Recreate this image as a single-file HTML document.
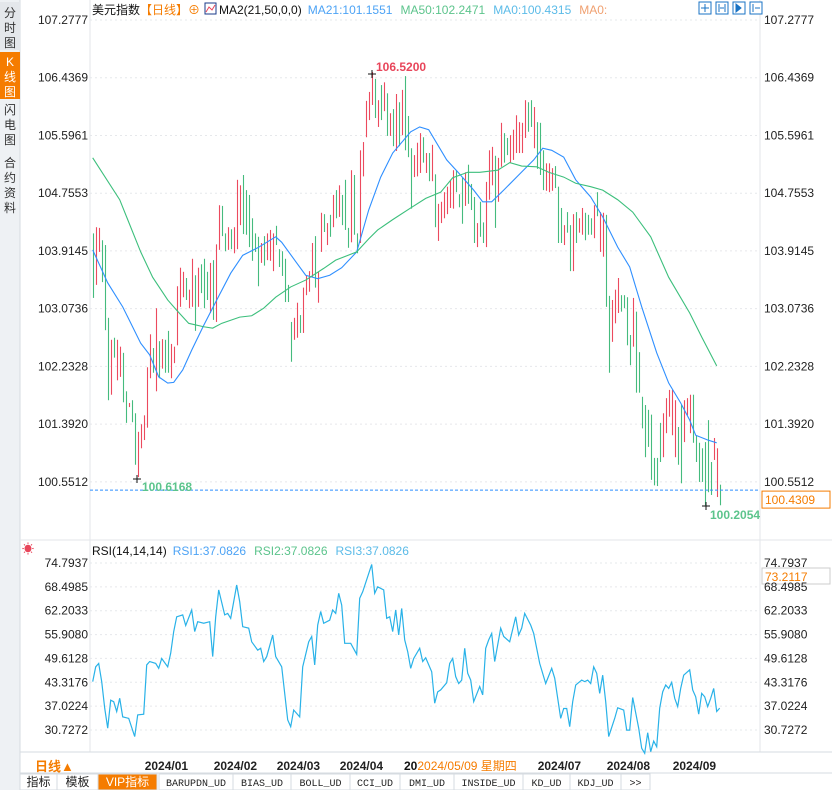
<!DOCTYPE html>
<html><head><meta charset="utf-8"><style>
html,body{margin:0;padding:0;background:#fff;}
svg{display:block;font-family:"Liberation Sans","Noto Sans CJK SC",sans-serif;}
</style></head><body>
<svg id="s" width="832" height="790" viewBox="0 0 832 790" xmlns="http://www.w3.org/2000/svg">
<rect x="0" y="0" width="832" height="790" fill="#fff"/>
<g>
<rect x="0" y="0" width="20" height="790" fill="#eef1f4"/>
<line x1="20" y1="0" x2="20" y2="790" stroke="#d6dbe0"/>
<g><rect x="0" y="2" width="20" height="48" fill="#e4e7eb"/><text x="10" y="17" font-size="12" text-anchor="middle" fill="#333">分</text><text x="10" y="32" font-size="12" text-anchor="middle" fill="#333">时</text><text x="10" y="47" font-size="12" text-anchor="middle" fill="#333">图</text></g>
<g><rect x="0" y="52" width="20" height="47" fill="#f57c00"/><text x="10" y="66" font-size="12" text-anchor="middle" fill="#fff">K</text><text x="10" y="81" font-size="12" text-anchor="middle" fill="#fff">线</text><text x="10" y="96" font-size="12" text-anchor="middle" fill="#fff">图</text></g>
<g><text x="10" y="114" font-size="12" text-anchor="middle" fill="#333">闪</text><text x="10" y="129" font-size="12" text-anchor="middle" fill="#333">电</text><text x="10" y="144" font-size="12" text-anchor="middle" fill="#333">图</text></g>
<g><text x="10" y="167" font-size="12" text-anchor="middle" fill="#333">合</text><text x="10" y="182" font-size="12" text-anchor="middle" fill="#333">约</text><text x="10" y="197" font-size="12" text-anchor="middle" fill="#333">资</text><text x="10" y="212" font-size="12" text-anchor="middle" fill="#333">料</text></g>
</g>
<g id="grid"></g>
<line x1="90" y1="0" x2="90" y2="752" stroke="#e3e6ea"/>
<line x1="760" y1="0" x2="760" y2="752" stroke="#e3e6ea"/>
<line x1="20" y1="540" x2="832" y2="540" stroke="#e3e6ea"/>
<line x1="20" y1="752" x2="832" y2="752" stroke="#d6dbe0"/>
<text x="92" y="14" font-size="12"><tspan fill="#111">美元指数</tspan><tspan fill="#f57c00">【日线】</tspan><tspan fill="#f57c00">⊕</tspan></text>
<g><rect x="205" y="3" width="11" height="11" fill="#fff" stroke="#1a3a8a"/><polyline points="206,12 209,7 212,10 215,5" fill="none" stroke="#e8455a"/></g>
<text x="219" y="14" font-size="12"><tspan fill="#111">MA2(21,50,0,0)</tspan><tspan fill="#4da3f5" dx="6">MA21:101.1551</tspan><tspan fill="#5cc48c" dx="8">MA50:102.2471</tspan><tspan fill="#5bbbe8" dx="8">MA0:100.4315</tspan><tspan fill="#f0a070" dx="8">MA0:</tspan></text>
<g>
<rect x="699" y="2" width="12" height="12" fill="#fff" stroke="#1a73c4"/><rect x="716" y="2" width="12" height="12" fill="#fff" stroke="#1a73c4"/><rect x="733" y="2" width="12" height="12" fill="#fff" stroke="#1a73c4"/><rect x="750" y="2" width="12" height="12" fill="#fff" stroke="#1a73c4"/>
<path d="M705 4v8M701 8h8M719 4v8M725 4v8M720 8h4M736 4v8l5-4z M753 4v8M755 8h5" stroke="#1a73c4" fill="#1a73c4"/>
</g>
<g><rect x="762" y="568" width="68" height="16" fill="none" stroke="#ccc"/><text x="765" y="581" font-size="12" fill="#f57c00">73.2117</text></g>
<g id="axes"></g>
<g id="candles"></g>
<g id="mas"></g>
<line id="curline" x1="90" x2="760" stroke="#2f8fff" stroke-dasharray="3,2"/>
<g><rect id="curbox" x="762" width="68" height="17" fill="#fff" stroke="#f57c00"/><text id="curtxt" x="765" font-size="12" fill="#f57c00">100.4309</text></g>
<g><path d="M368 74h8M372 70v8" stroke="#111"/><text x="376" y="71" font-size="12" font-weight="bold" fill="#e8455a">106.5200</text></g>
<g><path d="M133 479h8M137 475v8" stroke="#111"/><text x="142" y="491" font-size="12" font-weight="bold" fill="#5cc48c">100.6168</text></g>
<g><path d="M702 506h8M706 502v8" stroke="#111"/><text x="710" y="519" font-size="12" font-weight="bold" fill="#5cc48c">100.2054</text></g>
<text x="22" y="553" font-size="12" fill="#e8455a">☀</text>
<text x="92" y="555" font-size="12"><tspan fill="#111">RSI(14,14,14)</tspan><tspan fill="#4da3f5" dx="6">RSI1:37.0826</tspan><tspan fill="#5cc48c" dx="8">RSI2:37.0826</tspan><tspan fill="#5bbbe8" dx="8">RSI3:37.0826</tspan></text>
<polyline id="rsiline" fill="none" stroke="#29b2e8" stroke-width="1.2"/>
<text x="35" y="771" font-size="13" font-weight="bold" fill="#f57c00">日线▲</text>
<g id="dates"></g>
<rect x="390" y="757" width="140" height="16" fill="#fff"/>
<text x="404" y="770" font-size="12"><tspan fill="#111" font-weight="bold">20</tspan><tspan fill="#f57c00">2024/05/09 星期四</tspan></text>
<g id="tabs"><line x1="20" y1="773" x2="832" y2="773" stroke="#d6dbe0"/></g>
</svg>
<script>
const NS='http://www.w3.org/2000/svg';
const priceTicks=[107.2777,106.4369,105.5961,104.7553,103.9145,103.0736,102.2328,101.3920,100.5512];
const rsiTicks=[74.7937,68.4985,62.2033,55.9080,49.6128,43.3176,37.0224,30.7272];
const dateLabels=['2024/01','2024/02','2024/03','2024/04','2024/07','2024/08','2024/09'];
const dateBars=[17,40,61,82,148,171,193];
const highs=[104.17,104.26,104.25,104.07,104.00,102.94,102.62,102.65,102.62,102.52,102.43,101.87,101.70,101.74,101.55,101.28,101.39,101.52,102.22,102.70,102.50,103.08,102.60,102.63,102.62,102.75,102.56,102.52,103.40,103.67,103.61,103.52,103.35,103.80,103.56,103.67,103.72,103.80,103.61,103.74,103.78,104.01,104.58,104.57,104.17,104.26,104.23,104.26,104.95,104.87,105.02,104.80,104.73,104.39,104.17,104.12,104.03,104.13,104.17,104.22,104.17,104.28,103.94,103.91,103.80,103.42,102.88,102.94,103.16,102.98,103.38,103.56,103.62,104.03,104.13,103.61,104.47,104.45,104.32,104.44,104.73,104.80,104.87,104.73,104.95,104.25,105.09,105.02,104.17,105.38,105.50,106.10,106.23,106.52,106.42,106.11,106.33,106.37,106.21,105.92,105.98,106.20,106.08,106.26,106.46,105.88,105.41,105.31,105.49,105.63,105.57,105.34,105.34,105.46,105.03,104.60,104.63,104.77,104.85,104.95,105.09,105.09,104.74,104.98,105.06,105.17,104.89,104.70,104.32,104.63,104.33,104.92,105.38,105.43,105.30,105.27,105.78,105.63,105.56,105.60,105.68,105.89,105.79,105.78,106.11,106.08,106.11,106.01,105.79,105.78,105.38,105.19,105.19,105.12,105.15,104.85,104.54,104.29,104.48,104.29,104.45,104.48,104.39,104.54,104.47,104.44,104.39,104.58,104.77,104.48,104.47,104.44,103.26,103.20,103.35,103.52,103.27,103.27,103.24,102.69,103.23,103.03,102.44,101.79,101.67,101.60,101.53,100.90,100.90,101.41,101.55,101.77,101.89,101.89,101.74,101.35,101.67,101.74,101.77,101.82,101.82,101.23,101.12,101.04,101.13,101.45,100.84,101.19,101.04,100.51];
const lows=[103.23,103.42,103.90,103.46,102.76,101.74,101.82,102.36,102.03,102.08,101.71,101.41,101.64,101.42,100.80,100.62,101.04,101.16,101.34,102.06,102.14,101.87,102.06,102.20,102.14,102.14,102.06,102.28,102.54,103.10,103.24,103.20,103.08,103.10,102.75,103.10,103.30,103.08,103.20,103.01,102.91,102.88,103.93,104.13,103.91,103.93,103.94,103.88,103.94,104.29,104.16,104.15,103.97,103.77,103.90,103.40,103.74,103.70,103.78,103.77,103.62,104.00,103.68,103.55,103.17,103.17,102.30,102.62,102.65,102.72,102.72,103.27,103.32,103.53,103.38,103.16,103.90,104.19,104.00,104.12,104.26,104.39,104.41,104.29,104.22,103.96,104.04,104.15,103.88,104.03,105.00,105.57,105.82,106.04,105.85,105.72,105.82,105.95,105.59,105.59,105.44,105.37,105.44,105.60,105.38,105.28,104.53,104.99,105.00,105.05,105.20,105.05,104.93,104.93,104.26,104.06,104.32,104.39,104.45,104.54,104.53,104.77,104.55,104.31,104.57,104.60,104.51,104.03,103.97,104.12,104.03,103.97,104.66,104.87,104.25,104.63,105.14,105.20,105.31,105.20,105.24,105.34,105.34,105.34,105.56,105.65,105.72,105.41,105.11,105.02,104.80,104.79,104.77,104.79,104.83,104.03,104.03,104.00,104.18,103.62,103.62,104.03,104.18,104.15,104.07,104.15,104.15,104.10,104.42,103.90,103.83,103.10,102.14,102.59,102.86,103.01,103.03,103.08,102.54,102.25,102.52,101.85,101.85,101.33,100.91,101.06,100.58,100.50,100.49,100.84,100.91,101.26,101.50,101.23,100.91,100.80,100.53,101.13,101.52,101.26,101.12,100.84,100.55,100.55,100.21,100.40,100.36,100.87,100.33,100.21];
const upDays=[0,1,1,0,0,0,1,0,1,1,0,0,1,0,0,1,1,1,1,1,0,1,0,1,0,0,1,1,1,1,1,0,1,1,0,1,0,0,0,1,0,1,1,0,0,1,0,1,1,1,0,0,0,0,0,0,1,0,1,1,1,0,0,0,0,0,0,1,1,0,1,1,1,1,0,1,1,0,1,0,1,0,1,0,0,0,1,0,0,1,1,1,1,1,0,1,0,1,0,1,0,1,0,1,0,0,0,1,1,1,0,1,0,1,0,1,1,1,1,1,1,0,0,0,1,0,0,0,1,0,0,1,1,1,0,1,1,0,0,1,1,1,1,1,1,0,0,1,0,0,0,1,1,1,0,0,0,1,0,0,1,0,1,1,0,0,0,1,0,1,1,0,0,1,1,1,0,0,0,0,1,0,0,0,0,0,0,0,0,0,1,1,1,1,1,0,0,1,1,1,0,0,0,0,0,0,0,1,1,0,1];
const ma21Bars=[0,5,10,16,19,22,25,27,30,33,37,41,46,50,55,61,63,68,71,75,79,83,88,92,96,100,106,109,112,118,122,127,130,133,137,142,147,150,153,157,161,166,170,175,179,183,188,192,196,199,201,205,208];
const ma21Vals=[103.93,103.45,103.10,102.57,102.40,102.08,101.99,102.00,102.18,102.47,102.83,103.17,103.59,103.85,103.96,104.12,104.04,103.74,103.56,103.51,103.56,103.67,103.90,104.51,104.99,105.34,105.65,105.72,105.68,105.24,105.05,104.80,104.63,104.63,104.80,105.02,105.24,105.41,105.38,105.28,104.95,104.70,104.41,103.97,103.68,103.10,102.43,101.99,101.70,101.45,101.23,101.16,101.12];
const ma50Bars=[0,9,16,20,25,28,32,37,40,43,49,53,57,61,66,71,77,81,88,92,95,100,106,111,116,120,125,129,135,139,143,148,152,157,161,166,170,175,180,186,192,199,203,208];
const ma50Vals=[105.27,104.66,103.90,103.53,103.20,103.05,102.86,102.81,102.79,102.86,102.95,102.97,103.08,103.24,103.39,103.49,103.66,103.78,103.90,104.09,104.22,104.37,104.54,104.68,104.77,104.98,105.06,105.06,105.09,105.20,105.15,105.14,105.06,104.99,104.90,104.85,104.80,104.66,104.48,104.12,103.53,103.01,102.66,102.24];
const rsiBars=[0,1,2,3,4,5,6,7,8,9,10,12,14,15,17,18,19,21,22,23,25,26,27,28,30,31,33,34,35,37,39,40,41,42,44,45,46,48,49,50,52,53,55,56,57,58,60,61,63,65,66,67,69,70,72,73,74,75,76,77,79,80,81,82,83,84,86,88,89,90,93,94,95,97,98,99,100,101,102,103,104,105,106,107,109,110,111,113,114,115,116,118,119,120,121,122,123,124,125,126,127,129,130,131,132,133,134,136,137,139,141,142,143,144,146,147,149,151,153,154,155,156,157,158,159,160,161,163,164,165,166,167,168,169,170,171,172,174,175,177,178,179,180,182,183,184,185,186,187,188,189,190,191,192,193,194,195,196,197,199,200,201,202,203,204,205,206,207,208,209];
const rsiVals=[43.5,47.4,48.3,43.5,36.5,31.2,38.6,38.2,35.6,39.1,34.2,33.8,29.0,34.7,34.9,47.9,48.8,48.3,47.0,49.6,47.4,51.0,56.7,60.6,61.1,58.3,62.4,56.7,59.3,58.9,59.3,50.1,60.6,67.7,61.1,61.5,60.2,69.0,64.6,58.0,57.6,54.0,51.8,52.3,48.8,50.1,55.8,50.1,47.4,33.4,31.6,36.0,34.2,47.4,54.0,55.4,47.9,58.4,62.0,58.9,59.7,62.4,61.5,66.8,63.7,53.6,53.6,50.7,65.5,67.2,74.4,66.8,68.5,67.7,60.2,60.6,56.7,62.4,55.8,62.8,54.5,51.4,47.0,49.6,52.3,48.8,49.8,46.1,37.8,40.8,41.3,43.2,48.3,49.6,44.8,43.0,43.9,52.3,45.7,43.9,38.2,42.2,40.0,52.3,54.5,56.2,48.8,57.6,55.4,54.0,60.6,55.8,57.6,61.5,58.4,56.2,48.3,43.0,47.0,44.4,39.1,33.8,36.4,36.4,31.6,38.2,42.6,43.9,43.5,43.9,43.0,47.4,45.7,40.4,45.2,38.2,29.0,33.8,36.6,36.0,30.7,30.7,39.3,31.2,25.9,24.6,30.0,25.0,27.8,26.3,36.5,40.8,42.6,41.7,43.3,39.1,36.9,41.7,45.2,46.6,41.3,39.5,34.9,40.4,39.5,36.9,39.1,41.7,35.6,36.5];
const lastPrice=100.4309;

const px=i=>92.7+3*i;
const py=p=>20+(107.2777-p)*68.66;
const ry=v=>563+(74.7937-v)*3.79;
function mk(tag,attrs,parent){const e=document.createElementNS(NS,tag);for(const k in attrs)e.setAttribute(k,attrs[k]);parent.appendChild(e);return e;}
const grid=document.getElementById('grid'),axes=document.getElementById('axes');
priceTicks.forEach(t=>{
  const y=py(t);
  const g=mk('line',{x1:90,x2:760,y1:y,y2:y,stroke:'#e6e8eb','stroke-dasharray':'2,3'},grid);
  
  
  const a=mk('text',{x:88,y:y+4,'font-size':12,'text-anchor':'end',fill:'#222'},axes);a.textContent=t.toFixed(4);
  
  
  const b=mk('text',{x:764,y:y+4,'font-size':12,fill:'#222'},axes);b.textContent=t.toFixed(4);
  
  
});
rsiTicks.forEach(t=>{
  const y=ry(t);
  const g=mk('line',{x1:90,x2:760,y1:y,y2:y,stroke:'#e6e8eb','stroke-dasharray':'2,3'},grid);
  
  
  const a=mk('text',{x:88,y:y+4,'font-size':12,'text-anchor':'end',fill:'#222'},axes);a.textContent=t.toFixed(4);
  
  
  const b=mk('text',{x:764,y:y+4,'font-size':12,fill:'#222'},axes);b.textContent=t.toFixed(4);
  
  
});
const cg=document.getElementById('candles');
highs.forEach((h,i)=>{
  const x=Math.round(px(i))+0.5;
  const l=mk('line',{x1:x,x2:x,y1:py(h),y2:py(lows[i]),stroke:upDays[i]?'#ec4a5e':'#45bb7e','stroke-width':1.1},cg);
  
  
});
const mg=document.getElementById('mas');
const l21=mk('polyline',{fill:'none',stroke:'#2f8fff','stroke-width':1.1,points:ma21Bars.map((b,i)=>px(b)+','+py(ma21Vals[i])).join(' ')},mg);


const l50=mk('polyline',{fill:'none',stroke:'#3cbf7c','stroke-width':1.1,points:ma50Bars.map((b,i)=>px(b)+','+py(ma50Vals[i])).join(' ')},mg);


document.getElementById('rsiline').setAttribute('points',rsiBars.map((b,i)=>px(b)+','+ry(rsiVals[i])).join(' '));
const cy=py(lastPrice);
const cl=document.getElementById('curline');cl.setAttribute('y1',cy);cl.setAttribute('y2',cy);
document.getElementById('curbox').setAttribute('y',cy+1);
document.getElementById('curtxt').setAttribute('y',cy+14);
const dg=document.getElementById('dates');
dateLabels.forEach((d,i)=>{
  const t=mk('text',{x:px(dateBars[i])+1,y:770,'font-size':12,'font-weight':'bold',fill:'#222'},dg);t.textContent=d;
  
  
});
const tabNames=['指标','模板','VIP指标','BARUPDN_UD','BIAS_UD','BOLL_UD','CCI_UD','DMI_UD','INSIDE_UD','KD_UD','KDJ_UD','>>'];
const tg=document.getElementById('tabs');
let starts=[20,57,98,159,233,291,350,400,454,523,570,621],ends=[57,98,157,233,291,350,400,454,523,570,621,650];
tabNames.forEach((n,i)=>{
  const g=mk('g',{},tg);
  
  
  const vip=n==='VIP指标';
  mk('rect',{x:starts[i],y:774,width:ends[i]-starts[i],height:16,fill:vip?'#f57c00':'#fff',stroke:'#d6dbe0'},g);
  const t=mk('text',{x:(starts[i]+ends[i])/2,y:786,'font-size':n.match(/[A-Z>]/)&&!vip?10:12,'text-anchor':'middle',fill:vip?'#fff':'#222','font-family':n.match(/[A-Z>]/)&&!vip?'"Liberation Mono",monospace':'"Liberation Sans","Noto Sans CJK SC",sans-serif'},g);
  t.textContent=n;
});
</script>
</body></html>
